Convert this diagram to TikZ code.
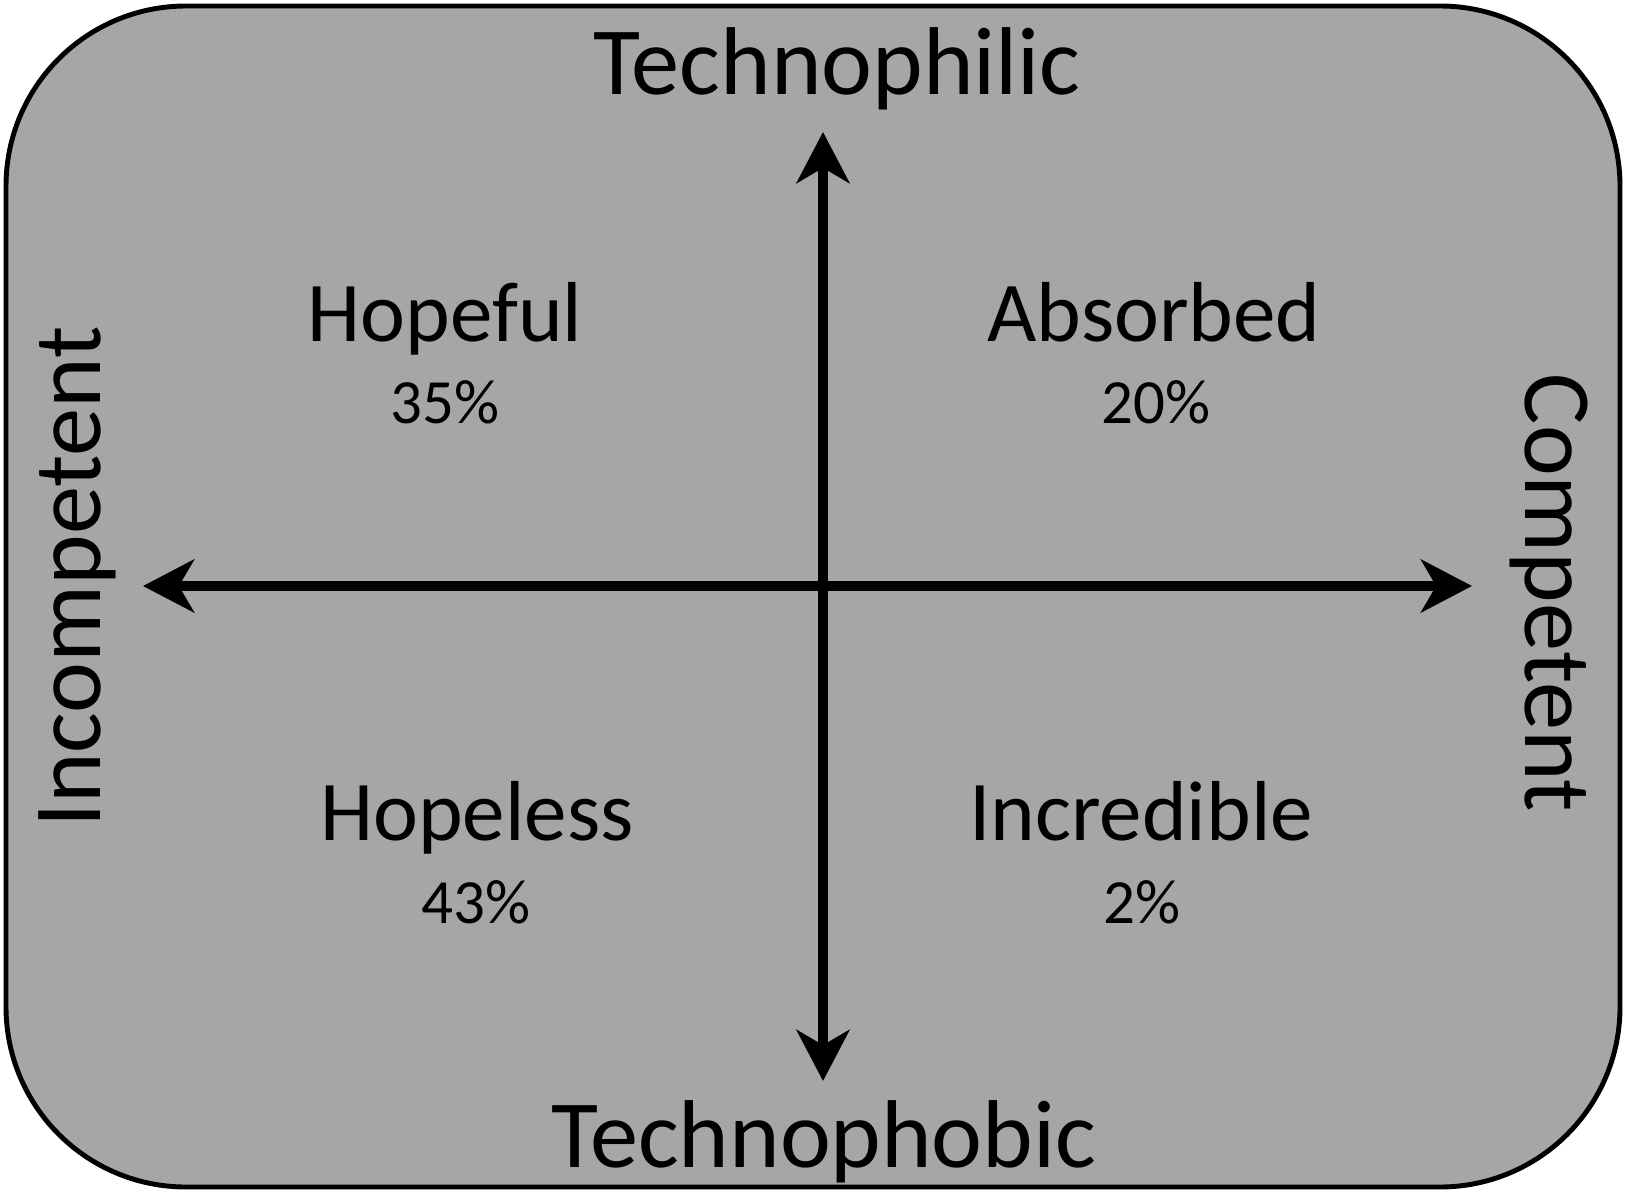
\documentclass[tikz,border=0pt]{standalone}
\usepackage{fontspec}
\setmainfont{Carlito}
\usetikzlibrary{arrows.meta}
\definecolor{bg}{RGB}{166, 166, 166}
\tikzset{
  axis/.style={line width=2.8pt, {Stealth[length=14.5pt, width=15pt, inset=4.3pt]}-{Stealth[length=14.5pt, width=15pt, inset=4.3pt]}},
  big/.style={anchor=base, font=\fontsize{27.4}{33}\selectfont},
  quad/.style={anchor=base, font=\fontsize{24.2}{29}\selectfont},
  pct/.style={anchor=base, font=\fontsize{17.9}{21}\selectfont}
}

\begin{document}
\begin{tikzpicture}[x=0.01cm, y=-0.01cm]
        \useasboundingbox (0, 0) rectangle (1625, 1191);
        \filldraw[color=black, fill=bg, line width=1.4pt, rounded corners=1.8cm] (6, 6) rectangle (1620, 1187);
        % axes
        \coordinate (top) at (823, 132);
        \coordinate (bot) at (823, 1081);
        \coordinate (lft) at (143, 586);
        \coordinate (rgt) at (1472, 586);
        \draw[axis] (bot) -- (top);
        \draw[axis] (lft) -- (rgt);
        % axis labels
        \node[big] (phil) at (837, 95) {Technophilic};
        \node[big] (phob) at (824, 1167) {Technophobic};
        \node[big, rotate=90] (inc) at (100, 577) {Incompetent};
        \node[big, rotate=-90] (com) at (1525, 593) {Competent};
        % quadrants
        \node[quad] (a) at (445, 341) {Hopeful};
        \node[pct] (a1) at (445, 423) {35\%};
        \node[quad] (b) at (1154, 341) {Absorbed};
        \node[pct] (b1) at (1156, 423) {20\%};
        \node[quad] (c) at (477, 840) {Hopeless};
        \node[pct] (c1) at (476, 923) {43\%};
        \node[quad] (d) at (1141, 840) {Incredible};
        \node[pct] (d1) at (1142, 923) {2\%};
    \end{tikzpicture}
\end{document}
